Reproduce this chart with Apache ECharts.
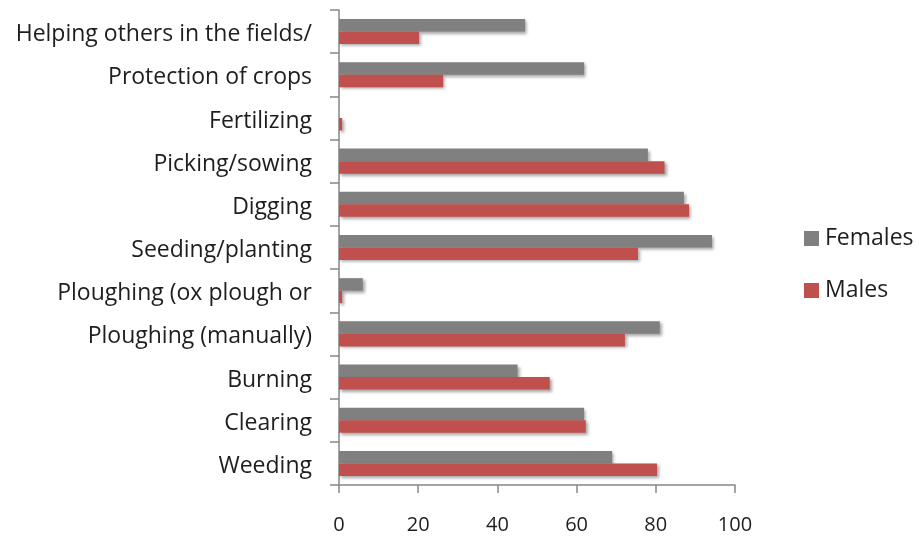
<!DOCTYPE html>
<html>
<head>
<meta charset="utf-8">
<script src="https://cdn.jsdelivr.net/npm/echarts@6/dist/echarts.min.js"></script>
<style>
  html, body { margin: 0; padding: 0; background: #ffffff; }
  #chart { width: 919px; height: 536px; }
</style>
</head>
<body>
<div id="chart"></div>
<script>
// Farm activities, listed bottom to top on the category axis
const categories = [
  'Weeding',
  'Clearing',
  'Burning',
  'Ploughing (manually)',
  'Ploughing (ox plough or',
  'Seeding/planting',
  'Digging',
  'Picking/sowing',
  'Fertilizing',
  'Protection of crops',
  'Helping others in the fields/'
];

// Share of respondents doing each activity (%)
const females = [69, 61.9, 45.1, 81, 6, 94.2, 87.1, 78, 0, 61.9, 47];
const males   = [80.3, 62.3, 53.2, 72.2, 0.8, 75.5, 88.4, 82.2, 0.8, 26.3, 20.2];

// Value axis ticks
const xTicks = [0, 20, 40, 60, 80, 100];

const FONT = 'Open Sans';
const TEXT = '#1e1e1e';
const AXIS = '#868686';

const barShadow = {
  shadowColor: 'rgba(0,0,0,0.35)',
  shadowBlur: 3,
  shadowOffsetX: 2,
  shadowOffsetY: 2
};

const chart = echarts.init(document.getElementById('chart'), null, { renderer: 'canvas' });

chart.setOption({
  backgroundColor: '#ffffff',
  animation: false,
  textStyle: { fontFamily: FONT },
  grid: { left: 339, right: 184, top: 10, bottom: 51, containLabel: false },
  legend: {
    orient: 'vertical',
    left: 799,
    top: 222,
    itemWidth: 15,
    itemHeight: 15,
    itemGap: 29,
    icon: 'rect',
    data: ['Females', 'Males'],
    textStyle: { fontFamily: FONT, fontSize: 23, color: TEXT, padding: [0, 0, 0, 1] }
  },
  xAxis: {
    type: 'value',
    min: xTicks[0],
    max: xTicks[xTicks.length - 1],
    interval: xTicks[1] - xTicks[0],
    axisLine: { show: true, lineStyle: { color: AXIS, width: 1.5 } },
    axisTick: { show: true, length: 8, lineStyle: { color: AXIS, width: 1.5 } },
    splitLine: { show: false },
    axisLabel: { fontFamily: FONT, fontSize: 20, color: TEXT, margin: 30 }
  },
  yAxis: {
    type: 'category',
    data: categories,
    axisLine: { show: true, lineStyle: { color: AXIS, width: 1.5 } },
    axisTick: { show: true, length: 9, alignWithLabel: false, lineStyle: { color: AXIS, width: 1.5 } },
    axisLabel: {
      fontFamily: FONT,
      fontSize: 23,
      color: TEXT,
      margin: 27,
      interval: 0,
      verticalAlign: 'top',
      lineHeight: 6
    }
  },
  series: [
    {
      name: 'Females',
      type: 'bar',
      data: females,
      barGap: '0%',
      barCategoryGap: '42%',
      itemStyle: Object.assign({ color: '#808080' }, barShadow)
    },
    {
      name: 'Males',
      type: 'bar',
      data: males,
      barGap: '0%',
      barCategoryGap: '42%',
      itemStyle: Object.assign({ color: '#c0504d' }, barShadow)
    }
  ]
});
</script>
</body>
</html>
